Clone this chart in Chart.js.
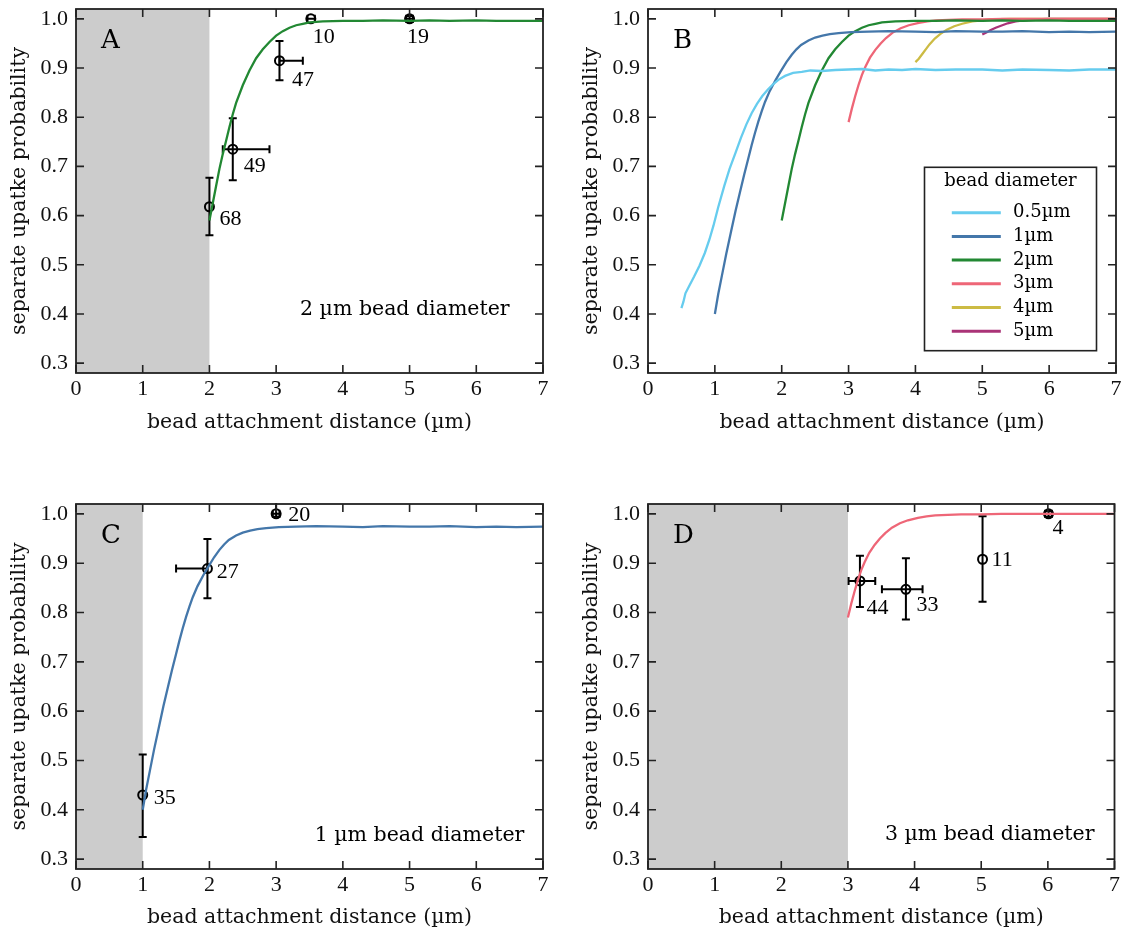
<!DOCTYPE html>
<html>
<head>
<meta charset="utf-8">
<script src="https://cdn.jsdelivr.net/npm/chart.js@4.4.1/dist/chart.umd.min.js"></script>
<style>
html,body{margin:0;padding:0;background:#fff;}
#wrap{position:relative;width:1121px;height:932px;overflow:hidden;background:#fff;}
canvas{position:absolute;}
</style>
</head>
<body>
<div id="wrap">
<canvas id="cA" width="560" height="440" style="left:0px;top:0px"></canvas>
<canvas id="cB" width="549" height="440" style="left:572px;top:0px"></canvas>
<canvas id="cC" width="560" height="437" style="left:0px;top:495px"></canvas>
<canvas id="cD" width="549" height="437" style="left:572px;top:495px"></canvas>
</div>
<script>
// ---------- axis ticks ----------
const xTicks = [0, 1, 2, 3, 4, 5, 6, 7];
const yTicks = [0.3, 0.4, 0.5, 0.6, 0.7, 0.8, 0.9, 1.0];

// ---------- simulated curves ----------
const cyanX = [0.50,0.53,0.56,0.62,0.69,0.77,0.85,0.92,0.98,1.05,1.14,1.22,1.31,1.39,1.47,1.55,1.63,1.71,1.79,1.87,1.95,2.05,2.17,2.30,2.43,2.60,2.80,3.00,3.20,3.40,3.60,3.80,4.00,4.30,4.60,5.00,5.30,5.60,6.00,6.30,6.60,7.00];
const cyanY = [0.412,0.425,0.442,0.458,0.476,0.498,0.524,0.552,0.580,0.617,0.660,0.695,0.728,0.758,0.785,0.808,0.827,0.843,0.856,0.867,0.876,0.884,0.890,0.892,0.895,0.894,0.896,0.897,0.898,0.895,0.897,0.896,0.898,0.896,0.897,0.897,0.895,0.897,0.896,0.895,0.897,0.897];

const blueX = [1.00,1.05,1.11,1.17,1.24,1.31,1.38,1.44,1.50,1.55,1.60,1.65,1.70,1.75,1.82,1.91,1.98,2.07,2.15,2.22,2.29,2.40,2.50,2.61,2.72,2.85,3.04,3.30,3.60,4.00,4.30,4.60,5.00,5.30,5.60,6.00,6.30,6.60,7.00];
const blueY = [0.400,0.440,0.481,0.522,0.566,0.610,0.650,0.684,0.716,0.743,0.768,0.791,0.812,0.831,0.853,0.876,0.892,0.912,0.927,0.938,0.947,0.956,0.962,0.966,0.969,0.971,0.973,0.974,0.975,0.974,0.973,0.975,0.974,0.974,0.975,0.973,0.974,0.973,0.974];

const greenX = [2.00,2.05,2.10,2.15,2.20,2.25,2.30,2.35,2.40,2.50,2.60,2.70,2.80,2.90,3.00,3.10,3.20,3.30,3.40,3.50,3.70,4.00,4.30,4.60,5.00,5.30,5.60,6.00,6.30,6.60,7.00];
const greenY = [0.590,0.625,0.660,0.695,0.725,0.752,0.780,0.806,0.829,0.865,0.895,0.920,0.938,0.953,0.966,0.975,0.982,0.987,0.990,0.993,0.995,0.996,0.996,0.997,0.996,0.997,0.996,0.997,0.996,0.996,0.996];

const redX = [3.00,3.05,3.10,3.15,3.20,3.25,3.32,3.40,3.48,3.56,3.66,3.78,3.90,4.05,4.18,4.31,4.50,4.70,5.00,5.30,5.60,6.00,6.30,6.60,7.00];
const redY = [0.790,0.818,0.843,0.866,0.886,0.902,0.921,0.937,0.950,0.961,0.972,0.981,0.987,0.992,0.995,0.997,0.998,0.999,0.999,1.000,1.000,1.000,1.000,1.000,1.000];

const yellowX = [4.00,4.05,4.10,4.16,4.21,4.29,4.37,4.47,4.58,4.70,4.85,5.00,5.12,5.40,5.70,6.00,6.50,7.00];
const yellowY = [0.912,0.919,0.928,0.939,0.948,0.960,0.969,0.978,0.985,0.990,0.995,0.997,0.999,1.000,1.000,1.000,1.000,1.000];

const purpleX = [5.00,5.06,5.12,5.20,5.28,5.38,5.50,5.62,5.77,6.00,6.30,6.60,7.00];
const purpleY = [0.968,0.972,0.977,0.982,0.986,0.991,0.995,0.997,0.999,1.000,1.000,1.000,1.000];

// ---------- measured points with error bars ----------
const aX = [2.00, 2.35, 3.05, 3.52, 5.00];
const aY = [0.618, 0.735, 0.915, 1.000, 1.000];
const aYLo = [0.560, 0.672, 0.875, 1.000, 0.994];
const aYHi = [0.677, 0.798, 0.955, 1.000, 1.006];
const aXLo = [2.00, 2.20, 3.05, 3.47, 4.95];
const aXHi = [2.00, 2.90, 3.40, 3.58, 5.05];
const aN = ['68', '49', '47', '10', '19'];

const cX = [1.00, 1.97, 3.00];
const cY = [0.430, 0.889, 1.000];
const cYLo = [0.345, 0.829, 0.994];
const cYHi = [0.512, 0.949, 1.040];
const cXLo = [1.00, 1.50, 2.95];
const cXHi = [1.00, 1.97, 3.05];
const cN = ['35', '27', '20'];

const dX = [3.18, 3.87, 5.02, 6.01];
const dY = [0.864, 0.847, 0.908, 1.000];
const dYLo = [0.811, 0.786, 0.822, 0.994];
const dYHi = [0.915, 0.910, 0.995, 1.006];
const dXLo = [3.01, 3.51, 5.02, 5.96];
const dXHi = [3.41, 4.12, 5.02, 6.06];
const dN = ['44', '33', '11', '4'];

const seriesNames = ['0.5µm', '1µm', '2µm', '3µm', '4µm', '5µm'];

// ---------- styles ----------
const COLORS = ['#66CCEE', '#4477AA', '#228833', '#EE6677', '#CCBB44', '#AA3377'];
const WORD_FONT = '"DejaVu Serif", serif';
const NUM_FONT = '"Liberation Serif", serif';
const INK = '#111111';
const NUM_SIZE = 22;
// label placement (pixel offset of count label from its point: left edge, vertical centre)
const aLabelOff = [[10, 12], [11, 17.5], [12.5, 20], [2, 18.5], [-2.6, 18.5]];
const cLabelOff = [[11, 3], [9.4, 4], [12, 1]];
const dLabelOff = [[6.5, 27], [10.5, 16], [9, 1], [4, 14]];

function pts(xs, ys) { return xs.map((v, i) => ({x: v, y: ys[i]})); }

function curve(xs, ys, idx) {
  return {
    type: 'line', label: seriesNames[idx], data: pts(xs, ys),
    borderColor: COLORS[idx], backgroundColor: COLORS[idx], borderWidth: 2.3,
    pointRadius: 0, tension: 0, fill: false
  };
}

function scatter(xs, ys, err, names, offs) {
  return {
    type: 'scatter', data: pts(xs, ys), err: err, names: names, offs: offs,
    pointStyle: 'circle', pointRadius: 4.5, pointBorderWidth: 2,
    pointBorderColor: '#000', pointBackgroundColor: 'rgba(0,0,0,0)', clip: false
  };
}

const decor = {
  id: 'decor',
  beforeDatasetsDraw(chart, args, o) {
    const {ctx, chartArea: a, scales: {x}} = chart;
    if (o.shadeTo != null) {
      const x0 = x.getPixelForValue(0), x1 = x.getPixelForValue(o.shadeTo);
      ctx.save();
      ctx.fillStyle = '#cccccc';
      ctx.fillRect(x0, a.top, x1 - x0, a.bottom - a.top);
      ctx.restore();
    }
  },
  beforeDatasetDraw(chart, args) {
    const ds = chart.data.datasets[args.index];
    if (!ds.err) return;
    const {ctx, chartArea: a, scales: {x, y}} = chart;
    const e = ds.err, cap = 4;
    ctx.save();
    ctx.beginPath(); ctx.rect(a.left, a.top - 1, a.right - a.left, a.bottom - a.top + 1); ctx.clip();
    ctx.strokeStyle = '#000'; ctx.lineWidth = 2;
    ds.data.forEach((p, i) => {
      const px = x.getPixelForValue(p.x), py = y.getPixelForValue(p.y);
      if (e.yLo[i] !== e.yHi[i]) {
        const y0 = y.getPixelForValue(e.yLo[i]), y1 = y.getPixelForValue(e.yHi[i]);
        ctx.beginPath();
        ctx.moveTo(px, y0); ctx.lineTo(px, y1);
        ctx.moveTo(px - cap, y0); ctx.lineTo(px + cap, y0);
        ctx.moveTo(px - cap, y1); ctx.lineTo(px + cap, y1);
        ctx.stroke();
      }
      if (e.xLo[i] !== e.xHi[i]) {
        const x0 = x.getPixelForValue(e.xLo[i]), x1 = x.getPixelForValue(e.xHi[i]);
        ctx.beginPath();
        ctx.moveTo(x0, py); ctx.lineTo(x1, py);
        ctx.moveTo(x0, py - cap); ctx.lineTo(x0, py + cap);
        ctx.moveTo(x1, py - cap); ctx.lineTo(x1, py + cap);
        ctx.stroke();
      }
    });
    ctx.restore();
  },
  afterDraw(chart, args, o) {
    const {ctx, chartArea: a, scales: {x, y}} = chart;
    ctx.save();
    // frame
    ctx.strokeStyle = '#222'; ctx.lineWidth = 1.8;
    ctx.strokeRect(a.left, a.top, a.right - a.left, a.bottom - a.top);
    // inward ticks on all sides
    ctx.lineWidth = 1.6;
    ctx.beginPath();
    x.ticks.forEach(t => {
      const px = x.getPixelForValue(t.value);
      ctx.moveTo(px, a.bottom); ctx.lineTo(px, a.bottom - 8);
      ctx.moveTo(px, a.top); ctx.lineTo(px, a.top + 8);
    });
    y.ticks.forEach(t => {
      const py = y.getPixelForValue(t.value);
      ctx.moveTo(a.left, py); ctx.lineTo(a.left + 8, py);
      ctx.moveTo(a.right, py); ctx.lineTo(a.right - 8, py);
    });
    ctx.stroke();
    // count labels
    chart.data.datasets.forEach(ds => {
      if (!ds.names) return;
      ctx.fillStyle = '#000'; ctx.font = NUM_SIZE + 'px ' + NUM_FONT;
      ctx.textAlign = 'left'; ctx.textBaseline = 'middle';
      ds.data.forEach((p, i) => {
        const px = x.getPixelForValue(p.x), py = y.getPixelForValue(p.y);
        ctx.fillText(ds.names[i], px + ds.offs[i][0], py + ds.offs[i][1]);
      });
    });
    // panel letter
    if (o.letter) {
      ctx.fillStyle = '#000'; ctx.font = '26px ' + WORD_FONT;
      ctx.textAlign = 'left'; ctx.textBaseline = 'alphabetic';
      ctx.fillText(o.letter, a.left + 25, a.top + 39);
    }
    // note
    if (o.note) {
      ctx.fillStyle = '#000'; ctx.font = '20.5px ' + WORD_FONT;
      ctx.textAlign = 'right'; ctx.textBaseline = 'middle';
      ctx.fillText(o.note.text, x.getPixelForValue(o.note.x), y.getPixelForValue(o.note.y));
    }
    // legend inside plot
    if (o.legend) {
      const w = 172, h = 183.4;
      const bx = a.right - 19.5 - w, by = a.top + 158.3;
      ctx.fillStyle = '#fff'; ctx.fillRect(bx, by, w, h);
      ctx.strokeStyle = '#222'; ctx.lineWidth = 1.6; ctx.strokeRect(bx, by, w, h);
      ctx.fillStyle = '#000'; ctx.font = '18px ' + WORD_FONT;
      ctx.textAlign = 'center'; ctx.textBaseline = 'middle';
      ctx.fillText('bead diameter', bx + w / 2, by + 14.5);
      ctx.textAlign = 'left';
      chart.data.datasets.filter(d => d.type === 'line').forEach((d, i) => {
        const ly = by + 45.4 + i * 23.7;
        ctx.strokeStyle = d.borderColor; ctx.lineWidth = 3;
        ctx.beginPath(); ctx.moveTo(bx + 27.3, ly); ctx.lineTo(bx + 76.3, ly); ctx.stroke();
        ctx.fillStyle = '#000';
        ctx.fillText(d.label, bx + 88.6, ly);
      });
    }
    ctx.restore();
  }
};

function noPad(s) { s.paddingTop = 0; s.paddingBottom = 0; s.paddingLeft = 0; s.paddingRight = 0; }

function makePanel(id, W, H, frame, titleY, datasets, deco) {
  const lh = 20.5 * 1.2;
  return new Chart(document.getElementById(id), {
    data: {datasets: datasets},
    plugins: [decor],
    options: {
      responsive: false, animation: false, devicePixelRatio: 1,
      layout: {padding: {left: 0, top: frame.t, right: W - frame.r, bottom: 0}},
      plugins: {legend: {display: false}, tooltip: {enabled: false}, decor: deco},
      scales: {
        x: {
          type: 'linear', min: 0, max: 7,
          afterBuildTicks: s => { s.ticks = xTicks.map(v => ({value: v})); },
          afterFit: s => { s.height = H - frame.b; noPad(s); },
          grid: {display: false, drawTicks: false},
          border: {display: false},
          ticks: {font: {family: NUM_FONT, size: NUM_SIZE}, color: INK, padding: 3, maxRotation: 0, autoSkip: false,
                  callback: v => String(v)},
          title: {display: true, text: 'bead attachment distance (µm)', color: INK,
                  font: {family: WORD_FONT, size: 20.5}, padding: {top: 0, bottom: H - titleY - lh / 2}}
        },
        y: {
          type: 'linear', min: 0.28, max: 1.02,
          afterBuildTicks: s => { s.ticks = yTicks.map(v => ({value: v})); },
          afterFit: s => { s.width = frame.l; noPad(s); },
          grid: {display: false, drawTicks: false},
          border: {display: false},
          ticks: {font: {family: NUM_FONT, size: NUM_SIZE}, color: INK, padding: 8,
                  callback: v => Number(v).toFixed(1)},
          title: {display: true, text: 'separate upatke probability', color: INK,
                  font: {family: WORD_FONT, size: 20.5}, padding: {top: 20 - lh / 2, bottom: 0}}
        }
      }
    }
  });
}

makePanel('cA', 560, 440, {l: 76, t: 9, r: 543, b: 373}, 423, [
  curve(greenX, greenY, 2),
  scatter(aX, aY, {xLo: aXLo, xHi: aXHi, yLo: aYLo, yHi: aYHi}, aN, aLabelOff)
], {letter: 'A', shadeTo: 2, note: {text: '2 µm bead diameter', x: 6.5, y: 0.408}});

makePanel('cB', 549, 440, {l: 76, t: 9, r: 544, b: 373}, 423, [
  curve(cyanX, cyanY, 0),
  curve(blueX, blueY, 1),
  curve(greenX, greenY, 2),
  curve(redX, redY, 3),
  curve(yellowX, yellowY, 4),
  curve(purpleX, purpleY, 5)
], {letter: 'B', legend: true});

makePanel('cC', 560, 437, {l: 76, t: 9, r: 543, b: 374}, 423, [
  curve(blueX, blueY, 1),
  scatter(cX, cY, {xLo: cXLo, xHi: cXHi, yLo: cYLo, yHi: cYHi}, cN, cLabelOff)
], {letter: 'C', shadeTo: 1, note: {text: '1 µm bead diameter', x: 6.72, y: 0.347}});

makePanel('cD', 549, 437, {l: 76, t: 9, r: 544, b: 374}, 423, [
  curve(redX, redY, 3),
  scatter(dX, dY, {xLo: dXLo, xHi: dXHi, yLo: dYLo, yHi: dYHi}, dN, dLabelOff)
], {letter: 'D', shadeTo: 3, note: {text: '3 µm bead diameter', x: 6.70, y: 0.35}});
</script>
</body>
</html>
